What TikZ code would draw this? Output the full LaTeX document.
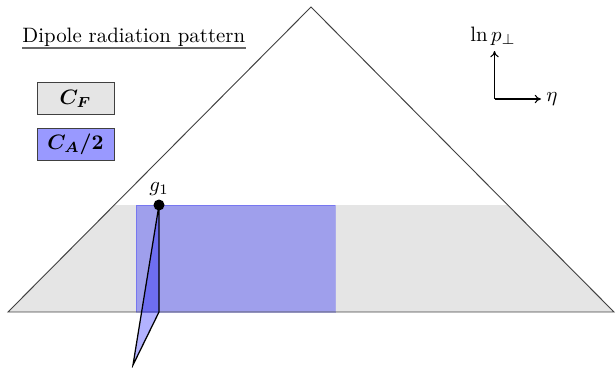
\documentclass[tikz,border=0pt]{standalone}
\usepackage{amsmath,bm}
\usetikzlibrary{arrows.meta}
\begin{document}
\begin{tikzpicture}[x=0.48pt,y=-0.48pt,
  legbox/.style={draw=black!75,line width=0.4pt,minimum width=37pt,minimum height=15pt,inner sep=0pt},
  bluefill/.style={fill=blue,fill opacity=0.3},
  axis/.style={-{To[length=3pt,width=4pt]},line width=0.5pt}]
\useasboundingbox (0,0) rectangle (616,367);
% triangle corners
\coordinate (apex) at (311,7);
\coordinate (bl) at (8,312);
\coordinate (br) at (614,312);
% gray band clipped to triangle
\begin{scope}
  \clip (apex) -- (bl) -- (br) -- cycle;
  \fill[black!10] (0,205) rectangle (616,312);
\end{scope}
% blue rectangle
\fill[bluefill,draw=blue,draw opacity=0.25] (136,205) rectangle (335,312);
% triangle outline
\draw[black!75,line width=0.45pt] (apex) -- (bl) -- (br) -- cycle;
% gluon emission triangle
\coordinate (g1) at (159,205);
\coordinate (foot) at (159,312);
\coordinate (tip) at (133,365);
\filldraw[bluefill,draw=black,draw opacity=1,line width=0.6pt] (g1) -- (foot) -- (tip) -- cycle;
\fill[black] (g1) circle (5.5);
\node[anchor=south,inner sep=1pt] (g1lab) at (159,198) {$g_1$};
% title
\node[anchor=base west,inner sep=0pt] (title) at (22,42) {Dipole radiation pattern};
\draw[black!60,line width=0.6pt] (22,48) -- (246,48);
% legend
\node[legbox,fill=black!10] (cf) at (75.5,98.5) {$\bm{C_F}$};
\node[legbox,fill=blue!40] (ca) at (75.5,144.5) {$\bm{C_A/2}$};
% axes
\coordinate (o) at (494.5,99);
\coordinate (up) at (494.5,51);
\coordinate (rt) at (541,99);
\draw[axis] (o) -- (up);
\draw[axis] (o) -- (rt);
\node[anchor=base,inner sep=0pt] (ylab) at (493,41) {$\ln p_\perp$};
\node[anchor=west,inner sep=0pt] (xlab) at (546,99) {$\eta$};
\end{tikzpicture}
\end{document}
